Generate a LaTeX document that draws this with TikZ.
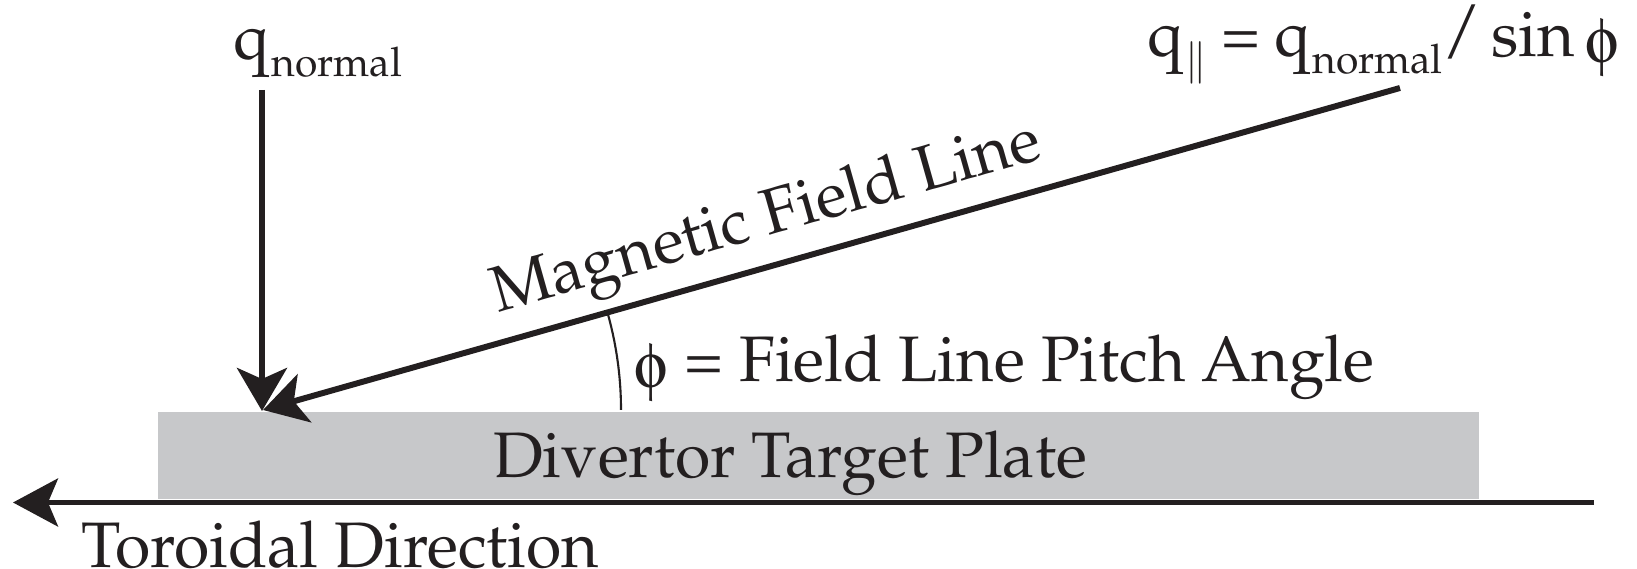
\documentclass[tikz,border=0pt]{standalone}
\usepackage[T1]{fontenc}
\usepackage{mathpazo}
\usepackage{pifont}
\usepackage{tikz}
\usetikzlibrary{arrows.meta}
\definecolor{inkblack}{RGB}{35,31,32}
\definecolor{plategray}{RGB}{199,200,202}
\newcommand{\phisym}{\raisebox{-0.06cm}{\Pisymbol{psy}{102}}}
\newcommand{\lowtext}[1]{\kern0.02cm\raisebox{-0.17cm}{\fontsize{11.6}{13}\selectfont #1}}

\begin{document}
\begin{tikzpicture}[
    every node/.style={font=\fontsize{18.3}{22}\selectfont, text=inkblack, inner sep=0pt},
    fluxarrow/.style={draw=inkblack, line width=1.7pt, -{Stealth[length=4.3mm, width=5mm, inset=1.1mm]}},
    torarrow/.style={draw=inkblack, line width=1.4pt, -{Stealth[length=4.5mm, width=4.8mm, inset=1.0mm]}}]
      \useasboundingbox (0,0) rectangle (16.37,5.69);
      \def\hitx{2.63}% where both arrows land
      \def\hity{1.59}
      \def\pitch{15.8}
      \def\arcr{3.58}
      % -------------------------------------------- Plate
      \node[fill=plategray, anchor=south west, minimum width=13.21cm, minimum height=0.87cm] at (1.57,0.69) (plate) {};
      \node[anchor=base] at (7.90,0.91) (plate_name) {Divertor Target Plate};
      % -------------------------------------------- Toroidal direction
      \coordinate (tor_start) at (15.94,0.665);
      \coordinate (tor_end) at (0.13,0.665);
      \draw[torarrow] (tor_start) -- (tor_end);
      \node[anchor=base west] at (0.81,0.01) (tor_name) {Toroidal Direction};
      % -------------------------------------------- Heat flux arrows
      \node[anchor=base west] at (2.33,5.09) (qn_label) {q\lowtext{normal}};
      \node[anchor=base east] at (16.20,5.12) (qpar_label) {q\lowtext{$\|$}\hspace{0.14cm}=\hspace{0.14cm}q\lowtext{normal}\raisebox{0.05cm}{/}\hspace{0.1cm}sin\,\phisym};
      \coordinate (qn_top) at (2.62,4.79);
      \coordinate (qn_hit) at (2.62,1.58);
      \coordinate (field_top) at (14.00,4.81);
      \coordinate (field_hit) at (\hitx,\hity);
      \draw[fluxarrow] (qn_top) -- (qn_hit);
      \draw[fluxarrow] (field_top) -- (field_hit);
      \node[anchor=base, rotate=\pitch] at (7.71,3.34) (field_name) {Magnetic Field Line};
      % -------------------------------------------- Pitch angle
      \draw[inkblack, line width=0.6pt] (field_hit) ++(\arcr,0) arc (0:\pitch:\arcr);
      \node[anchor=base west] at (6.34,1.87) (pitch_label) {\phisym\ = Field Line Pitch Angle};
\end{tikzpicture}
\end{document}
